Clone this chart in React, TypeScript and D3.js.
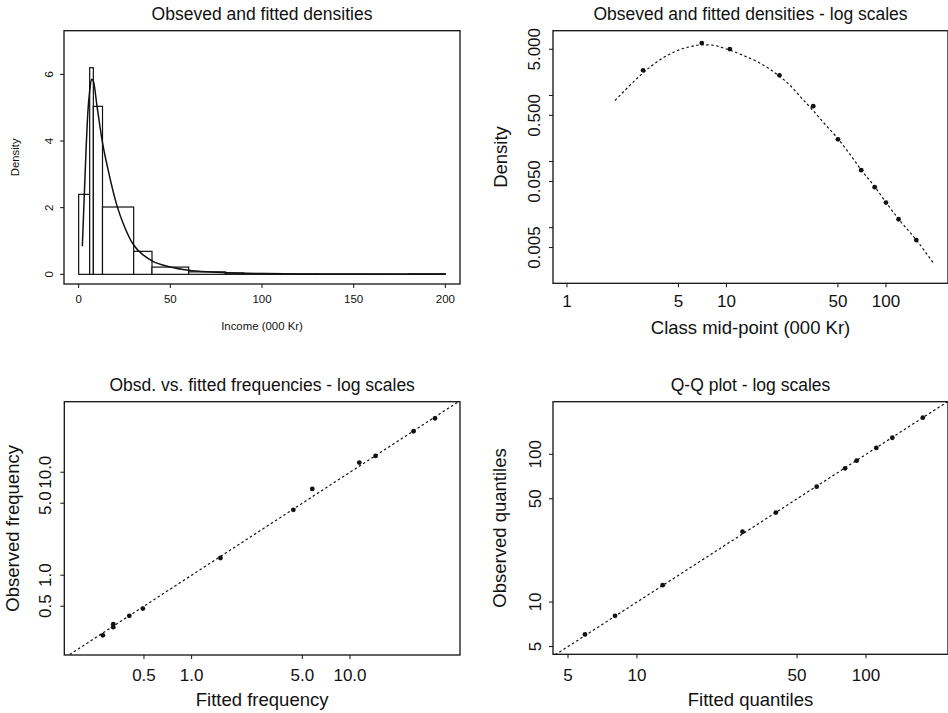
import React from 'react'
import * as d3 from 'd3'

// income classes (000 Kr) and observed densities per class
const breaks = [0, 6, 8, 13, 30, 40, 60, 80, 90, 110, 130, 180, 200]
const obsDensity = [2.4, 6.2, 5.04, 2.02, 0.69, 0.217, 0.074, 0.041, 0.024, 0.0134, 0.0065, 0.016]

// fitted density curve
const fitX = [2, 4, 5, 6, 7, 8, 10, 13, 16, 21, 25, 30, 35, 40, 50, 60, 70, 85, 100, 120, 155, 200]
const fitY = [0.84, 3.7, 4.85, 5.5, 5.85, 5.8, 5.05, 3.95, 3.15, 2.04, 1.43, 0.88, 0.59, 0.405, 0.222, 0.125, 0.0746, 0.0418, 0.0242, 0.01355, 0.00652, 0.00283]

// frequencies (%)
const fittedFreq = [0.275, 0.32, 0.32, 0.404, 0.492, 1.52, 4.39, 5.78, 11.45, 14.5, 25.2, 34.4]
const observedFreq = [0.261, 0.334, 0.313, 0.403, 0.474, 1.47, 4.31, 6.89, 12.4, 14.4, 25.0, 33.4]

// quantiles
const fittedQ = [5.93, 8.02, 12.95, 28.9, 40.4, 60.9, 81, 91, 110.9, 130.3, 177]
const observedQ = [6.04, 8.07, 13.0, 29.9, 40.3, 60.4, 80.4, 90.6, 110.4, 129.4, 177]

// tick values / labels
const tlXTicks = [0, 50, 100, 150, 200]
const tlYTicks = [0, 2, 4, 6]
const trXTicks = [1, 5, 10, 50, 100]
const trYTicks = [0.005, 0.01, 0.05, 0.1, 0.5, 1, 5]
const trYLabels = ['0.005', '', '0.050', '', '0.500', '', '5.000']
const blTicks = [0.5, 1, 5, 10]
const blLabels = ['0.5', '1.0', '5.0', '10.0']
const brTicks = [5, 10, 50, 100]

const FONT = '"Liberation Sans", Arial, Helvetica, sans-serif'
const INK = '#111'

const Frame = ({ x0, x1, y0, y1 }) => (
  <rect x={x0} y={y0} width={x1 - x0} height={y1 - y0} fill="none" stroke={INK} strokeWidth={1.3} />
)

const XAxis = ({ scale, ticks, labels, y, labelY, size }) => (
  <g>
    {ticks.map((t, i) => (
      <g key={i}>
        <line x1={scale(t)} x2={scale(t)} y1={y} y2={y + 4} stroke={INK} strokeWidth={1} />
        {labels[i] ? (
          <text x={scale(t)} y={labelY} textAnchor="middle" fontSize={size}>
            {labels[i]}
          </text>
        ) : null}
      </g>
    ))}
  </g>
)

const YAxis = ({ scale, ticks, labels, x, labelX, size }) => (
  <g>
    {ticks.map((t, i) => (
      <g key={i}>
        <line x1={x} x2={x - 4} y1={scale(t)} y2={scale(t)} stroke={INK} strokeWidth={1} />
        {labels[i] ? (
          <text transform={`translate(${labelX},${scale(t)}) rotate(-90)`} textAnchor="middle" fontSize={size}>
            {labels[i]}
          </text>
        ) : null}
      </g>
    ))}
  </g>
)

const Title = ({ x, y, children }) => (
  <text x={x} y={y} textAnchor="middle" fontSize={17.5}>
    {children}
  </text>
)

const VLabel = ({ x, y, size, children }) => (
  <text transform={`translate(${x},${y}) rotate(-90)`} textAnchor="middle" fontSize={size}>
    {children}
  </text>
)

const Dots = ({ xs, ys, sx, sy }) => (
  <g>
    {xs.map((v, i) => (
      <circle key={i} cx={sx(v)} cy={sy(ys[i])} r={2.4} fill={INK} />
    ))}
  </g>
)

// top-left: histogram with fitted density
const HistPanel = () => {
  const b = { x0: 64, x1: 460, y0: 30.7, y1: 284 }
  const x = d3.scaleLinear().domain([-8, 208]).range([b.x0, b.x1])
  const y = d3.scaleLinear().domain([-0.29, 7.31]).range([b.y1, b.y0])
  const line = d3
    .line<number>()
    .x((d) => x(d))
    .y((d, i) => y(fitY[i]))
    .curve(d3.curveMonotoneX)
  return (
    <g>
      <Title x={(b.x0 + b.x1) / 2} y={19.5}>Obseved and fitted densities</Title>
      {obsDensity.map((d, i) => (
        <rect
          key={i}
          x={x(breaks[i])}
          y={y(d)}
          width={x(breaks[i + 1]) - x(breaks[i])}
          height={y(0) - y(d)}
          fill="white"
          stroke={INK}
          strokeWidth={1.2}
        />
      ))}
      <path d={line(fitX) || ''} fill="none" stroke={INK} strokeWidth={1.5} />
      <Frame {...b} />
      <XAxis scale={x} ticks={tlXTicks} labels={tlXTicks.map(String)} y={b.y1} labelY={303} size={11.5} />
      <YAxis scale={y} ticks={tlYTicks} labels={tlYTicks.map(String)} x={b.x0} labelX={53} size={11.5} />
      <text x={(b.x0 + b.x1) / 2} y={330} textAnchor="middle" fontSize={11.4}>
        Income (000 Kr)
      </text>
      <VLabel x={18.5} y={(b.y0 + b.y1) / 2} size={11.4}>Density</VLabel>
    </g>
  )
}

// top-right: log-log densities at class mid-points
const LogDensityPanel = () => {
  const b = { x0: 553, x1: 948, y0: 30.7, y1: 283.3 }
  const x = d3.scaleLog().domain([0.817, 245]).range([b.x0, b.x1])
  const y = d3.scaleLog().domain([0.00144, 9.55]).range([b.y1, b.y0])
  const mids = breaks.slice(0, 11).map((v, i) => (v + breaks[i + 1]) / 2)
  const line = d3
    .line<number>()
    .x((d) => x(d))
    .y((d, i) => y(fitY[i]))
    .curve(d3.curveMonotoneX)
  return (
    <g>
      <Title x={(b.x0 + b.x1) / 2} y={19.5}>Obseved and fitted densities - log scales</Title>
      <path d={line(fitX) || ''} fill="none" stroke={INK} strokeWidth={1.2} strokeDasharray="2.5 2.5" />
      <Dots xs={mids} ys={obsDensity.slice(0, 11)} sx={x} sy={y} />
      <Frame {...b} />
      <XAxis scale={x} ticks={trXTicks} labels={trXTicks.map(String)} y={b.y1} labelY={307.3} size={17} />
      <YAxis scale={y} ticks={trYTicks} labels={trYLabels} x={b.x0} labelX={539.5} size={17} />
      <text x={(b.x0 + b.x1) / 2} y={334} textAnchor="middle" fontSize={18.5}>
        Class mid-point (000 Kr)
      </text>
      <VLabel x={506.5} y={(b.y0 + b.y1) / 2} size={18.5}>Density</VLabel>
    </g>
  )
}

// bottom: observed vs fitted on log scales with y = x reference
const DiagPanel = ({ id, b, xDom, yDom, xs, ys, ticks, labels, title, xTitle, yTitle, yTickX, yTitleX }) => {
  const x = d3.scaleLog().domain(xDom).range([b.x0, b.x1])
  const y = d3.scaleLog().domain(yDom).range([b.y1, b.y0])
  const lo = Math.min(xDom[0], yDom[0]) * 0.9
  const hi = Math.max(xDom[1], yDom[1]) * 1.1
  return (
    <g>
      <defs>
        <clipPath id={id}>
          <rect x={b.x0} y={b.y0} width={b.x1 - b.x0} height={b.y1 - b.y0} />
        </clipPath>
      </defs>
      <Title x={(b.x0 + b.x1) / 2} y={391}>{title}</Title>
      <line
        x1={x(lo)}
        y1={y(lo)}
        x2={x(hi)}
        y2={y(hi)}
        stroke={INK}
        strokeWidth={1.2}
        strokeDasharray="2.5 2.5"
        clipPath={`url(#${id})`}
      />
      <Dots xs={xs} ys={ys} sx={x} sy={y} />
      <Frame {...b} />
      <XAxis scale={x} ticks={ticks} labels={labels} y={b.y1} labelY={680.5} size={17} />
      <YAxis scale={y} ticks={ticks} labels={labels} x={b.x0} labelX={yTickX} size={17} />
      <text x={(b.x0 + b.x1) / 2} y={706} textAnchor="middle" fontSize={18.5}>
        {xTitle}
      </text>
      <VLabel x={yTitleX} y={(b.y0 + b.y1) / 2} size={18.5}>{yTitle}</VLabel>
    </g>
  )
}

const App = () => (
  <svg
    width={948}
    height={713}
    style={{ position: 'absolute', left: 0, top: 0, background: 'white', fontFamily: FONT }}
  >
    <rect width={948} height={713} fill="white" />
    <g fill={INK}>
      <HistPanel />
      <LogDensityPanel />
      <DiagPanel
        id="clip-freq"
        b={{ x0: 64.3, x1: 460, y0: 401.7, y1: 655 }}
        xDom={[0.157, 49.5]}
        yDom={[0.168, 48.4]}
        xs={fittedFreq}
        ys={observedFreq}
        ticks={blTicks}
        labels={blLabels}
        title="Obsd. vs. fitted frequencies - log scales"
        xTitle="Fitted frequency"
        yTitle="Observed frequency"
        yTickX={51}
        yTitleX={18.5}
      />
      <DiagPanel
        id="clip-qq"
        b={{ x0: 553, x1: 948, y0: 401.7, y1: 654.3 }}
        xDom={[4.3, 228]}
        yDom={[4.43, 227]}
        xs={fittedQ}
        ys={observedQ}
        ticks={brTicks}
        labels={brTicks.map(String)}
        title="Q-Q plot - log scales"
        xTitle="Fitted quantiles"
        yTitle="Observed quantiles"
        yTickX={541}
        yTitleX={505.5}
      />
    </g>
  </svg>
)

export default App
